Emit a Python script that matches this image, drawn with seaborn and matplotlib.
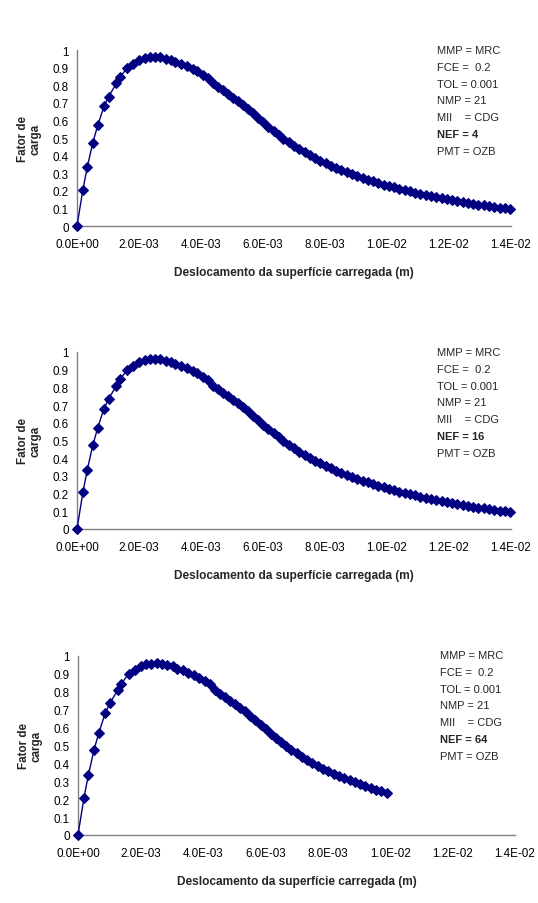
import matplotlib
matplotlib.use("Agg")
import matplotlib.pyplot as plt
import seaborn as sns
import numpy as np
from matplotlib.ticker import FuncFormatter, MultipleLocator

# deslocamento (m) e fator de carga
desloc = np.array([
    0.00, 0.19, 0.33, 0.51, 0.67, 0.87, 1.02, 1.27, 1.39, 1.62,
    1.82, 2.01, 2.19, 2.35, 2.52, 2.68, 2.86, 3.03, 3.17, 3.35,
    3.54, 3.73, 3.88, 4.07, 4.22, 4.40, 4.56, 4.72, 4.88, 5.04,
    5.20, 5.36, 5.52, 5.68, 5.85, 6.01, 6.17, 6.34, 6.50, 6.66,
    6.83, 7.00, 7.17, 7.34, 7.51, 7.68, 7.85, 8.02, 8.19, 8.36,
    8.53, 8.70, 8.87, 9.04, 9.21, 9.38, 9.55, 9.72, 9.89, 10.06,
    10.23, 10.40, 10.57, 10.74, 10.91, 11.08, 11.25, 11.42, 11.59, 11.76,
    11.93, 12.10, 12.27, 12.44, 12.61, 12.78, 12.95, 13.12, 13.29, 13.46,
    13.63, 13.80, 13.97,
]) * 1e-3

fator = [
    0.000, 0.207, 0.333, 0.474, 0.572, 0.680, 0.735, 0.810, 0.845, 0.900,
    0.920, 0.943, 0.955, 0.958, 0.960, 0.958, 0.951, 0.943, 0.930, 0.920,
    0.907, 0.892, 0.879, 0.858, 0.841, 0.810, 0.790, 0.770, 0.750, 0.730,
    0.710, 0.690, 0.665, 0.640, 0.615, 0.590, 0.565, 0.540, 0.518, 0.497,
    0.476, 0.456, 0.437, 0.419, 0.402, 0.386, 0.371, 0.357, 0.343, 0.330,
    0.317, 0.305, 0.294, 0.283, 0.273, 0.263, 0.253, 0.244, 0.235, 0.227,
    0.219, 0.211, 0.204, 0.197, 0.190, 0.183, 0.176, 0.170, 0.164, 0.158,
    0.152, 0.146, 0.141, 0.136, 0.131, 0.126, 0.121, 0.117, 0.112, 0.108,
    0.104, 0.100, 0.096,
]

nef = [4, 16, 64]
n_pontos = [83, 83, 59]   # o caso NEF = 64 termina em ~1.0E-02

params = ["MMP = MRC", "FCE =  0.2", "TOL = 0.001", "NMP = 21", "MII    = CDG"]
x_ticks = [0.0, 0.002, 0.004, 0.006, 0.008, 0.010, 0.012, 0.014]

sns.set_style("white")
plt.rcParams["font.family"] = ["Liberation Sans", "DejaVu Sans"]

W, H = 538, 904
fig = plt.figure(figsize=(W / 100, H / 100), dpi=100)

# (esquerda, direita, topo, base) em pixels
caixas = [(77, 511, 51, 227), (77, 511, 353, 530), (78, 515, 657, 836)]
texto_pos = [(437, 51), (437, 353), (440, 656)]

cor = "#000080"
cinza = "#808080"

for i, (l, r, t, b) in enumerate(caixas):
    ax = fig.add_axes([l / W, 1 - b / H, (r - l) / W, (b - t) / H])
    n = n_pontos[i]
    sns.lineplot(x=desloc[:n], y=fator[:n], ax=ax, color=cor, lw=1.0,
                 marker="D", markersize=4.6, markeredgecolor=cor, sort=False,
                 clip_on=False, zorder=5)
    ax.set_xlim(0, 0.014)
    ax.set_ylim(0, 1)
    ax.set_xticks(x_ticks)
    ax.xaxis.set_major_formatter(FuncFormatter(lambda v, p: f"{v:.1E}"))
    ax.yaxis.set_major_locator(MultipleLocator(0.1))
    ax.yaxis.set_major_formatter(FuncFormatter(lambda v, p: f"{v:g}"))
    sns.despine(ax=ax)
    for s in ["left", "bottom"]:
        ax.spines[s].set_color(cinza)
        ax.spines[s].set_linewidth(1.0)
    ax.tick_params(axis="both", direction="out", length=4, width=1,
                   color=cinza, labelsize=8.4, labelcolor="black", pad=2)
    ax.tick_params(axis="x", pad=5)
    ax.set_xlabel("Deslocamento da superfície carregada (m)", fontsize=8.6,
                  fontweight="bold", labelpad=11)
    ax.set_ylabel("Fator de\ncarga", fontsize=8.4, fontweight="bold",
                  labelpad=8, linespacing=1.0)

    tx, ty = texto_pos[i]
    linhas = params + [f"NEF = {nef[i]}", "PMT = OZB"]
    for k, txt in enumerate(linhas):
        fig.text(tx / W, 1 - (ty + k * 16.8) / H, txt, fontsize=8,
                 ha="left", va="center",
                 fontweight="bold" if txt.startswith("NEF") else "normal")

fig.savefig("out.png", dpi=100)
